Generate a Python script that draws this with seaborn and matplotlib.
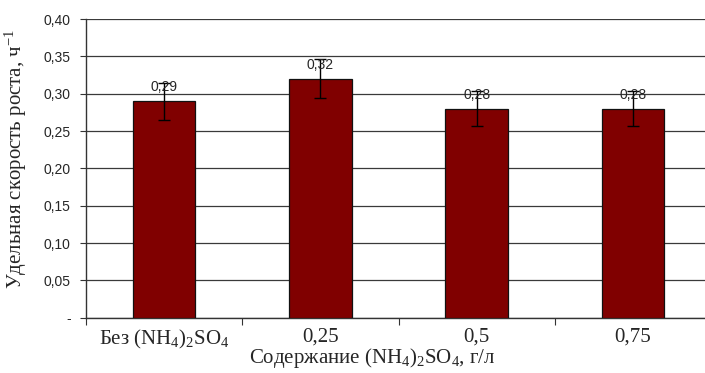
import matplotlib
matplotlib.use('Agg')
import matplotlib.pyplot as plt
from matplotlib.ticker import FuncFormatter
import pandas as pd
import seaborn as sns

# values
categories = ['Без (NH$_4$)$_2$SO$_4$', '0,25', '0,5', '0,75']
rates = [0.29, 0.32, 0.28, 0.28]
errors = [0.025, 0.026, 0.023, 0.023]
value_labels = ['0,29', '0,32', '0,28', '0,28']
yticks = [0, 0.05, 0.10, 0.15, 0.20, 0.25, 0.30, 0.35, 0.40]

sns.set_style('white')
plt.rcParams['font.family'] = ['Liberation Serif', 'DejaVu Serif']
plt.rcParams['mathtext.fontset'] = 'custom'
plt.rcParams['mathtext.rm'] = 'Liberation Serif'
plt.rcParams['mathtext.it'] = 'Liberation Serif:italic'
plt.rcParams['mathtext.bf'] = 'Liberation Serif:bold'

df = pd.DataFrame({'cat': categories, 'rate': rates})

fig = plt.figure(figsize=(7.05, 3.73), dpi=100)
# plot area runs past the right edge of the picture, as in the reference
ax = fig.add_axes([0.122, 0.148, 0.8865, 0.801])

sns.barplot(data=df, x='cat', y='rate', color='#800000', saturation=1,
            width=0.4, edgecolor='#111111', linewidth=0.9, ax=ax, zorder=3)

# error bars at the bar centres
centres = [p.get_x() + p.get_width() / 2 for p in ax.patches]
ax.errorbar(centres, rates, yerr=errors, fmt='none', ecolor='black',
            elinewidth=1, capsize=4, capthick=1, zorder=4)

ax.bar_label(ax.containers[0], labels=value_labels, padding=5,
             fontsize=10, family='Liberation Sans', zorder=5)

ax.set_ylim(0, 0.40)
ax.set_xlim(-0.5, 3.5)
ax.set_yticks(yticks)
ax.yaxis.set_major_formatter(FuncFormatter(
    lambda v, pos: '-' if abs(v) < 1e-9 else f'{v:.2f}'.replace('.', ',')))
for t in ax.get_yticklabels():
    t.set_family('Liberation Sans')
    t.set_fontsize(10)
ax.tick_params(axis='y', direction='out', length=4, width=0.8, pad=7,
               left=True, color='#333333')
ax.grid(axis='y', color='#3a3a3a', linewidth=0.9, zorder=0)
ax.set_axisbelow(True)

ax.set_xticks(range(len(categories)))
ax.set_xticklabels(categories, fontsize=15)
ax.tick_params(axis='x', which='major', length=0, pad=7)
ax.set_xticks([-0.5, 0.5, 1.5, 2.5, 3.5], minor=True)
ax.tick_params(axis='x', which='minor', direction='out', length=5,
               width=0.8, bottom=True, color='#333333')

for s in ['top', 'right']:
    ax.spines[s].set_visible(False)
for s in ['left', 'bottom']:
    ax.spines[s].set_color('#333333')
    ax.spines[s].set_linewidth(1)

ax.set_xlabel('Содержание (NH$_4$)$_2$SO$_4$, г/л', fontsize=15, labelpad=0)
ax.xaxis.set_label_coords(0.458, -0.095)
ax.set_ylabel('Удельная скорость роста, ч$^{-1}$', fontsize=15)
ax.yaxis.set_label_coords(-0.092, 0.53)

fig.savefig('out.png', dpi=100)
